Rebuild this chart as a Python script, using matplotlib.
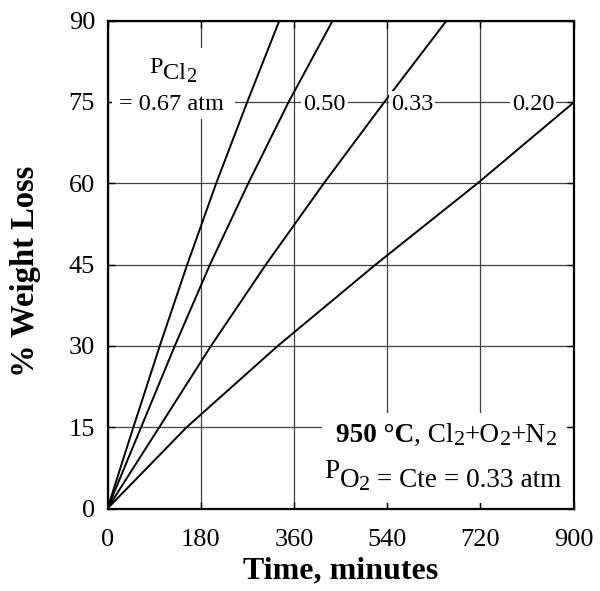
import numpy as np
import matplotlib
matplotlib.use("Agg")
import matplotlib.pyplot as plt
from matplotlib.patches import Rectangle
from matplotlib.transforms import offset_copy

plt.rcParams['font.family'] = ['Liberation Serif', 'DejaVu Serif']

# values (time in minutes, % weight loss)
t_067 = [0, 50, 101, 154, 210, 270, 332]
w_067 = [0, 15, 30, 45, 60, 75, 90]
t_050 = [0, 65, 130, 198, 272, 350, 435]
w_050 = [0, 15, 30, 45, 60, 75, 90]
t_033 = [0, 100, 200, 306, 418, 535, 655]
w_033 = [0, 15, 30, 45, 60, 75, 90]
t_020 = [0, 153, 329, 518, 715, 900]
w_020 = [0, 15, 30, 45, 60, 74.85]

curve_labels = ['0.50', '0.33', '0.20']
curve_label_x = [419.5, 588, 821.7]

xticks = [0, 180, 360, 540, 720, 900]
yticks = [0, 15, 30, 45, 60, 75, 90]

fig = plt.figure(figsize=(6, 5.91), dpi=100)
ax = fig.add_axes([107.5/600, 82.5/591, 466/600, 488/591])

ax.set_axisbelow(True)
ax.grid(True, color='0.25', lw=0.9)

for t, w in [(t_067, w_067), (t_050, w_050), (t_033, w_033), (t_020, w_020)]:
    ax.plot(t, w, color='black', lw=1.4, zorder=3)

ax.set_xlim(0, 900)
ax.set_ylim(0, 90)
ax.set_xticks(xticks)
ax.set_yticks(yticks)
ax.tick_params(direction='in', length=5, width=1, top=True, right=True,
               labelsize=19)
ax.tick_params(axis='x', pad=15)
ax.tick_params(axis='y', pad=9)
for s in ax.spines.values():
    s.set_linewidth(1.6)

ax.set_xlabel('Time, minutes', fontsize=23, fontweight='bold', labelpad=4)
ax.set_ylabel('% Weight Loss', fontsize=23.5, fontweight='bold', labelpad=20)
ax.yaxis.label.set_y(0.485)

# white boxes behind the text blocks (hide the grid there)
ax.add_patch(Rectangle((0.0097, 0.798), 0.264, 0.146, transform=ax.transAxes,
                       facecolor='white', edgecolor='none', zorder=1))
ax.add_patch(Rectangle((0.4604, 0.0113), 0.5256, 0.1844, transform=ax.transAxes,
                       facecolor='white', edgecolor='none', zorder=1))


def rich_text(x, y, pieces, fs, ha='left'):
    # pieces: (text, size factor, vertical shift in points, weight)
    r = fig.canvas.get_renderer()
    arts = []
    for s, sc, dy, wt in pieces:
        a = ax.text(x, y, s, fontsize=fs*sc, fontweight=wt,
                    ha='left', va='baseline', zorder=4)
        arts.append((a, dy))
    widths = [a.get_window_extent(r).width * 72 / fig.dpi for a, _ in arts]
    pos = -sum(widths) if ha == 'right' else 0
    for (a, dy), w in zip(arts, widths):
        a.set_transform(offset_copy(ax.transData, fig=fig, x=pos, y=dy,
                                    units='points'))
        pos += w


fs = 17.5
rich_text(81.5, 80.3, [('P', 1, 0, 'normal'), ('Cl', 1, -4.2, 'normal'),
                       ('2', 0.85, -6.2, 'normal')], fs)
ax.text(124, 74.6, '= 0.67 atm', fontsize=fs, ha='center', va='center', zorder=4)

for lab, x in zip(curve_labels, curve_label_x):
    ax.text(x, 74.6, lab, fontsize=fs, ha='center', va='center', zorder=4,
            bbox=dict(facecolor='white', edgecolor='none', pad=1.5))

fb = 19.6
rich_text(868, 12.3, [('950 °C', 1, 0, 'bold'), (', Cl', 1, 0, 'normal'),
                      ('2', 0.82, -2.5, 'normal'), ('+O', 1, 0, 'normal'),
                      ('2', 0.82, -2.5, 'normal'), ('+N', 1, 0, 'normal'),
                      ('2', 0.82, -2.5, 'normal')], fb, ha='right')
rich_text(877, 4.0, [('P', 1, 6.5, 'normal'), ('O', 1, 0, 'normal'),
                     ('2', 0.82, -2.5, 'normal'),
                     (' = Cte = 0.33 atm', 1, 0, 'normal')], fb, ha='right')

fig.savefig('out.png', dpi=100)
